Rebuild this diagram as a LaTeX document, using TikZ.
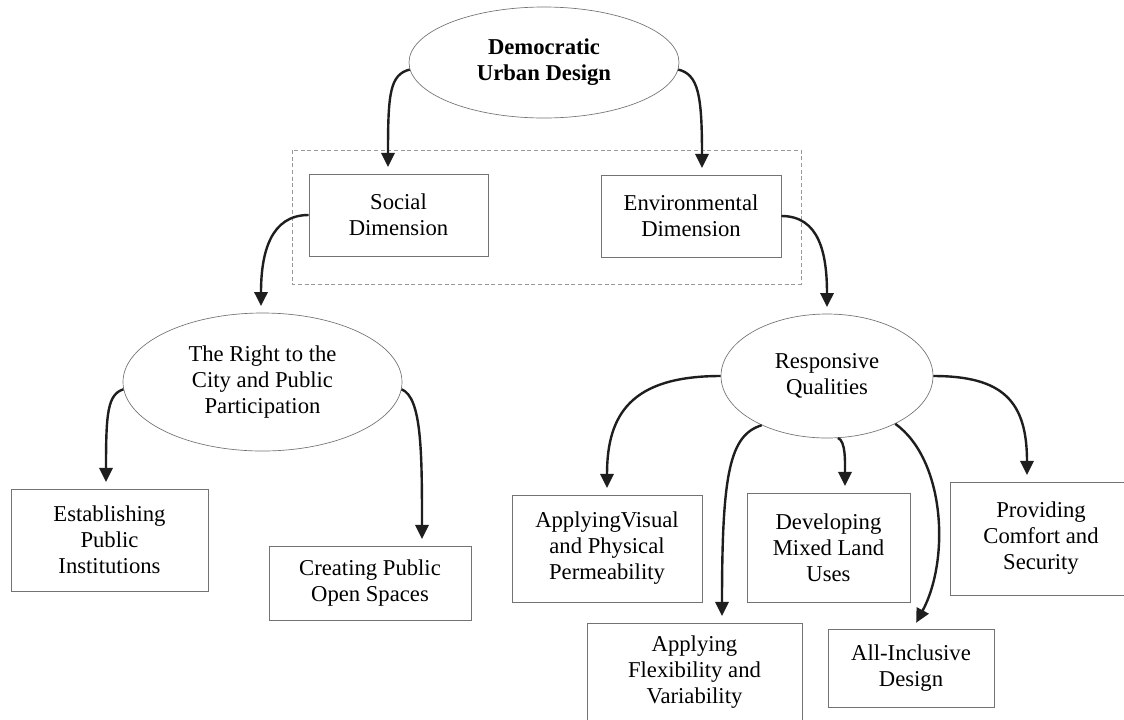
\documentclass[tikz,border=0pt]{standalone}
\usepackage{fontspec}
\setmainfont{Liberation Serif}
\usetikzlibrary{shapes.geometric,arrows.meta,calc}
\begin{document}
\begin{tikzpicture}[x=0.75pt,y=-0.75pt,
  box/.style={rectangle,draw=lineColor,line width=0.6pt,align=center,inner sep=0pt,
    font=\fontsize{17}{19.5}\selectfont},
  oval/.style={ellipse,draw=lineColor,line width=0.5pt,align=center,inner sep=0pt,
    font=\fontsize{17}{19.5}\selectfont},
  link/.style={draw=arrowColor,line width=1.8pt,-{Triangle[length=10.5pt,width=10pt]},shorten >=5pt}]
\definecolor{lineColor}{gray}{0.45}
\definecolor{dashColor}{gray}{0.6}
\definecolor{arrowColor}{RGB}{30,30,30}
\path[use as bounding box,fill=white] (0,0) rectangle (1124,719);

% top level
\node[oval,minimum width=202.5pt,minimum height=83.25pt,
  font=\bfseries\fontsize{17}{19.5}\selectfont] (top) at (544,62.5) {Democratic\\Urban Design};

% the two dimensions
\draw[draw=dashColor,line width=0.6pt,dash pattern=on 3pt off 2pt] (292,150) rectangle (801,284);
\node[box,minimum width=134.25pt,minimum height=61.5pt] (soc) at (398.5,215) {Social\\Dimension};
\node[box,minimum width=135pt,minimum height=61.5pt] (env) at (691,216) {Environmental\\Dimension};

% second level
\node[oval,minimum width=209.25pt,minimum height=103.5pt] (right) at (262.5,382) {The Right to the\\City and Public\\Participation};
\node[oval,minimum width=159pt,minimum height=93pt] (resp) at (827,376) {Responsive\\Qualities};

% social side
\node[box,minimum width=147.75pt,minimum height=76.5pt] (est) at (109.5,540) {Establishing\\Public\\Institutions};
\node[box,minimum width=151.5pt,minimum height=55.5pt] (cre) at (370,583) {Creating Public\\Open Spaces};

% environmental side
\node[box,minimum width=142.5pt,minimum height=80.25pt] (vis) at (607,548.5) {ApplyingVisual\\and Physical\\Permeability};
\node[box,minimum width=122.25pt,minimum height=81.75pt] (dev) at (828.5,547.5) {Developing\\Mixed Land\\Uses};
\node[box,minimum width=136.5pt,minimum height=84.75pt] (prov) at (1041,538.5) {Providing\\Comfort and\\Security};
\node[box,minimum width=161.25pt,minimum height=74.25pt] (flex) at (694.5,672.5) {Applying\\Flexibility and\\Variability};
\node[box,minimum width=124.5pt,minimum height=58.5pt] (all) at (911,668) {All-Inclusive\\Design};

% connectors
\draw[link] (top.183) .. controls +(-20,5) and +(0,-80) .. ($(soc.north)+(-10.5,0)$);
\draw[link] (top.357) .. controls +(20,5) and +(0,-80) .. ($(env.north)+(11,0)$);
\draw[link] (soc.west) .. controls +(-38,0) and +(0,-60) .. ($(right.north)+(-1.5,0)$);
\draw[link] (env.east) .. controls +(38,0) and +(0,-60) .. (resp.north);
\draw[link] (right.183) .. controls +(-16,5) and +(0,-75) .. ($(est.north)+(-3.5,0)$);
\draw[link] (right.357) .. controls +(20,8) and +(0,-95) .. ($(cre.north)+(52,0)$);
\draw[link] (resp.west) .. controls +(-90,0) and +(0,-80) .. (vis.north);
\draw[link] (resp.217) .. controls +(-32,10) and +(0,-150) .. ($(flex.north)+(27.5,0)$);
\draw[link] (resp.280) .. controls +(8,3) and +(0,-30) .. ($(dev.north)+(16.5,0)$);
\draw[link] (resp.325) .. controls +(50,36) and +(37,-69) .. ($(all.north)+(2,0)$);
\draw[link] (resp.east) .. controls +(70,0) and +(0,-80) .. ($(prov.north)+(-14,0)$);
\end{tikzpicture}
\end{document}
